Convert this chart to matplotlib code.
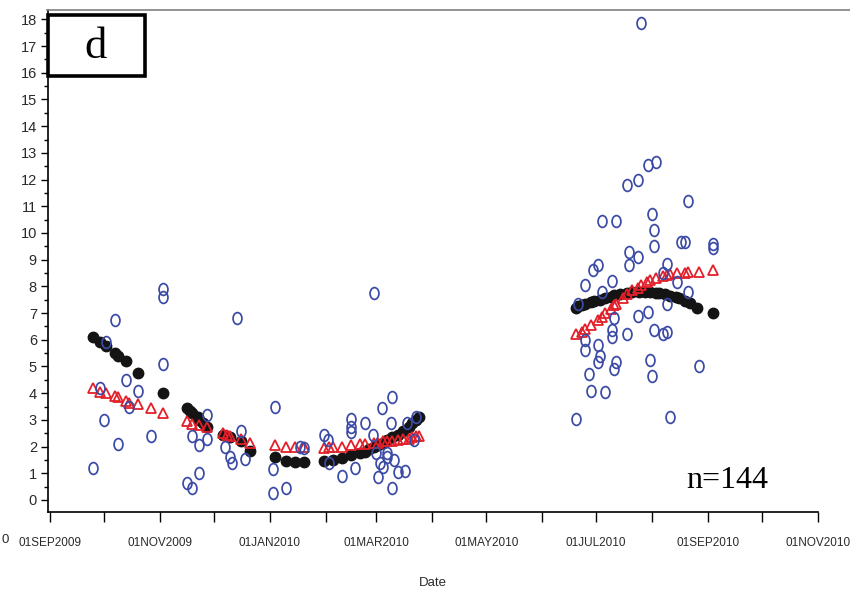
import numpy as np
import matplotlib
matplotlib.use('Agg')
import matplotlib.pyplot as plt
from matplotlib.path import Path
from matplotlib.patches import Rectangle
from matplotlib.lines import Line2D

# days counted from 01SEP2009
start = np.datetime64('2009-09-01')

obs_day = [24, 28, 31, 30, 36, 38, 42, 44, 49, 56, 63, 63, 63, 76, 79, 79, 83, 83,
           87, 87, 97, 100, 101, 106, 108, 104, 125, 124, 124, 131, 139, 141,
           180, 190, 184, 167, 167, 167, 175, 189, 203, 198, 152, 154, 155, 162,
           169, 179, 181, 183, 185, 187, 191, 193, 197, 182, 190, 187, 202,
           328, 336, 332, 326, 320, 354, 306, 314, 334, 335, 335, 350, 352, 368,
           368, 321, 326, 301, 304, 321, 340, 342, 297, 312, 348, 354, 306, 293,
           342, 332, 326, 313, 312, 312, 320, 335, 340, 342, 297, 297, 304, 305,
           304, 314, 313, 333, 299, 334, 360, 300, 308, 292, 344]
obs_val = [1.2, 4.2, 5.9, 3.0, 6.75, 2.1, 4.5, 3.5, 4.1, 2.4, 7.9, 7.6, 5.1, 0.65, 0.45, 2.4, 2.05, 1.0,
           2.3, 3.2, 2.0, 1.6, 1.4, 2.6, 1.55, 6.8, 3.5, 1.15, 0.25, 0.45, 2.0, 1.95,
           7.75, 3.85, 3.45, 3.05, 2.75, 2.55, 2.9, 2.9, 3.1, 2.9, 2.45, 2.25, 1.4, 0.9,
           1.2, 2.45, 1.75, 1.4, 1.25, 1.6, 1.5, 1.05, 1.1, 0.85, 0.45, 1.75, 2.25,
           17.85, 12.65, 12.55, 12.0, 11.8, 11.2, 10.45, 10.45, 10.7, 10.1, 9.5, 9.65, 9.65, 9.6,
           9.45, 9.3, 9.1, 8.6, 8.8, 8.8, 8.5, 8.85, 8.05, 8.2, 8.15, 7.8, 7.8, 7.35,
           7.35, 7.05, 6.9, 6.8, 6.35, 6.1, 6.2, 6.35, 6.2, 6.3, 6.0, 5.6, 5.8, 5.4,
           5.15, 5.15, 4.9, 5.25, 4.7, 4.65, 5.0, 4.1, 4.05, 3.05, 3.1]

fit1_day = [24, 28, 31, 36, 38, 42, 49, 63, 76, 78, 79, 82, 83, 85, 87, 96, 98, 100, 106,
            111, 125, 131, 136, 141, 152, 157, 162, 167, 172, 175, 177, 180, 182, 185,
            187, 190, 193, 196, 199, 201, 203, 205,
            292, 293, 295, 297, 300, 302, 305, 308, 311, 313, 316, 320, 323, 327, 330,
            333, 336, 338, 341, 344, 347, 349, 352, 355, 359, 368]
fit1_val = [6.1, 5.9, 5.75, 5.5, 5.4, 5.2, 4.75, 4.0, 3.45, 3.35, 3.25, 3.1, 3.0, 2.9, 2.75,
            2.45, 2.4, 2.35, 2.2, 1.85, 1.6, 1.45, 1.42, 1.42, 1.45, 1.5, 1.57, 1.68, 1.75,
            1.8, 1.9, 2.0, 2.05, 2.15, 2.25, 2.35, 2.45, 2.6, 2.72, 2.88, 2.98, 3.1,
            7.2, 7.25, 7.3, 7.35, 7.4, 7.45, 7.5, 7.55, 7.62, 7.68, 7.72, 7.75, 7.78, 7.8,
            7.8, 7.78, 7.76, 7.74, 7.7, 7.65, 7.6, 7.55, 7.45, 7.38, 7.2, 7.0]

fit2_day = [24, 28, 31, 36, 38, 42, 44, 49, 56, 63, 76, 79, 83, 87, 96, 98, 100, 106, 111,
            125, 131, 136, 141, 152, 155, 157, 162, 167, 172, 175, 180, 182, 185, 187,
            190, 193, 196, 199, 201, 203, 205,
            292, 295, 297, 300, 304, 306, 308, 311, 313, 314, 318, 320, 323, 326, 328,
            331, 333, 336, 340, 342, 344, 348, 352, 354, 360, 368]
fit2_val = [4.2, 4.05, 4.0, 3.9, 3.85, 3.7, 3.65, 3.6, 3.45, 3.25, 2.95, 2.85, 2.8, 2.75,
            2.5, 2.45, 2.4, 2.3, 2.15, 2.05, 2.0, 2.0, 2.0, 1.95, 1.98, 2.0, 2.0, 2.05,
            2.08, 2.1, 2.15, 2.15, 2.2, 2.2, 2.22, 2.25, 2.3, 2.3, 2.35, 2.38, 2.4,
            6.2, 6.3, 6.4, 6.55, 6.75, 6.85, 7.0, 7.15, 7.3, 7.35, 7.55, 7.7, 7.85, 7.95,
            8.05, 8.15, 8.25, 8.3, 8.38, 8.42, 8.45, 8.5, 8.5, 8.52, 8.55, 8.6]

tick_dates = ['2009-09-01', '2009-11-01', '2010-01-01', '2010-03-01',
              '2010-05-01', '2010-07-01', '2010-09-01', '2010-11-01']
tick_labels = ['01SEP2009', '01NOV2009', '01JAN2010', '01MAR2010',
               '01MAY2010', '01JUL2010', '01SEP2010', '01NOV2010']
minor_dates = ['2009-10-01', '2009-12-01', '2010-02-01', '2010-04-01',
               '2010-06-01', '2010-08-01', '2010-10-01']


def to_dates(days):
    return start + np.array(days).astype('timedelta64[D]')


narrow = ['Liberation Sans', 'DejaVu Sans']
serif = ['Liberation Serif', 'DejaVu Serif']
txt_col = '#2a2a2a'

fig = plt.figure(figsize=(8.5, 5.92), dpi=100)
ax = fig.add_axes([48 / 850, 1 - 512 / 592, 770 / 850, 502 / 592])

# tall "O" marker
circ = Path.unit_circle()
oval = Path(circ.vertices * np.array([0.75, 1.0]), circ.codes)

ax.plot(to_dates(fit1_day), fit1_val, ls='none', marker='o', ms=7.5,
        mfc='#141414', mec='#141414', zorder=3)
ax.plot(to_dates(fit2_day), fit2_val, ls='none', marker='^', ms=7,
        mfc='none', mec='#e3202a', mew=1.3, zorder=4)
ax.plot(to_dates(obs_day), obs_val, ls='none', marker=oval, ms=8.5,
        mfc='none', mec='#3b4aa5', mew=1.25, zorder=5)

ax.set_xlim(np.datetime64('2009-08-31'), np.datetime64('2010-11-01'))
ax.set_ylim(-0.45, 18.35)

ax.set_xticks([np.datetime64(d) for d in tick_dates])
ax.set_xticklabels(tick_labels)
ax.set_xticks([np.datetime64(d) for d in minor_dates], minor=True)
ax.set_yticks(range(0, 19))
ax.set_yticks(np.arange(0.5, 18, 1.0), minor=True)

for lab in ax.get_xticklabels() + ax.get_yticklabels():
    lab.set_family(narrow)
    lab.set_color(txt_col)
ax.tick_params(axis='x', which='major', length=7, width=1, pad=11, labelsize=8.5)
ax.tick_params(axis='x', which='minor', length=7, width=1)
ax.tick_params(axis='y', which='major', length=5, width=1, pad=3, labelsize=10.5)
ax.tick_params(axis='y', which='minor', length=3, width=1)

ax.spines['top'].set_visible(False)
ax.spines['right'].set_visible(False)
ax.spines['left'].set_linewidth(1.2)
ax.spines['bottom'].set_linewidth(1.2)

ax.set_xlabel('Date', family=narrow, fontsize=9.5, color=txt_col, labelpad=20)

# gray line across the top and panel letter box
fig.add_artist(Line2D([47 / 850, 1.0], [1 - 10 / 592, 1 - 10 / 592],
                      color='#808080', lw=1.2))
fig.add_artist(Rectangle((48 / 850, 1 - 76 / 592), 97 / 850, 61 / 592,
                         fill=True, fc='white', ec='black', lw=2.6, zorder=10))
fig.text(96 / 850, 1 - 47 / 592, 'd', family=serif, fontsize=32,
         ha='center', va='center', zorder=11)
ax.text((727 - 48) / 770, (512 - 481) / 502, 'n=144', transform=ax.transAxes,
        family=serif, fontsize=23, ha='center', va='center')
fig.text(1 / 850, 1 - 540 / 592, '0', family=narrow, fontsize=9.5,
         color=txt_col, ha='left', va='center')

fig.savefig('out.png', dpi=100)
